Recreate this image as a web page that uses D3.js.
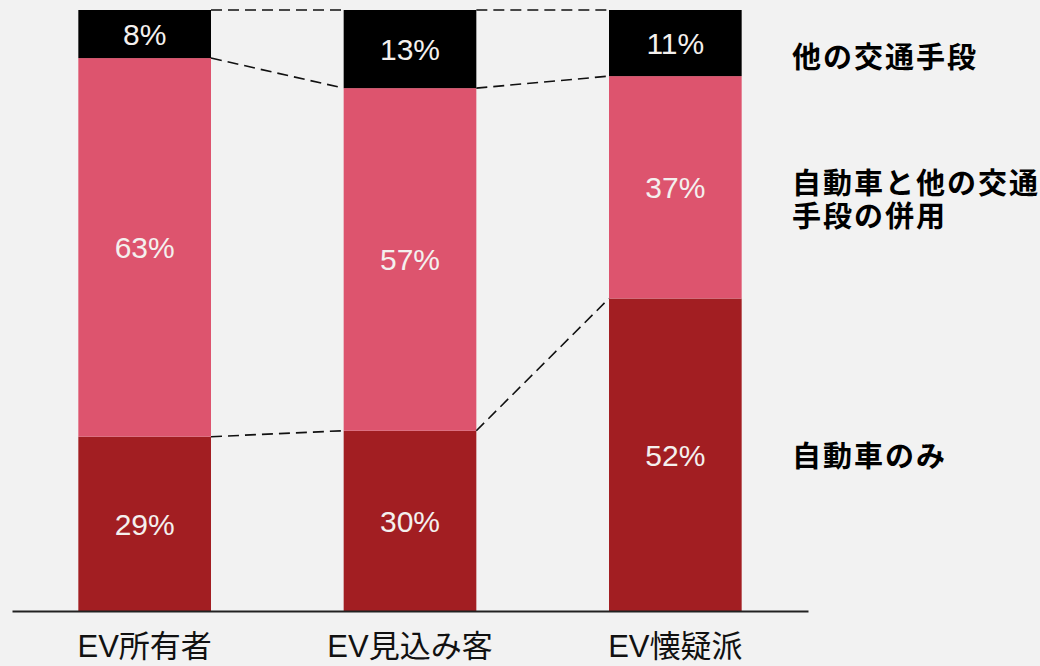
<!DOCTYPE html>
<html>
<head>
<meta charset="utf-8">
<script src="https://cdn.jsdelivr.net/npm/d3@7"></script>
<style>
  html, body { margin: 0; padding: 0; background: #f2f2f2; }
  svg { display: block; }
</style>
</head>
<body>
<div class="chart"></div>
<script>
const width = 1040;
const height = 666;
const fontSize = 30;

// data
const categories = ['EV所有者', 'EV見込み客', 'EV懐疑派'];
const carOnly = [29, 30, 52];
const carAndOther = [63, 57, 37];
const otherOnly = [8, 13, 11];
const seriesKeys = ['carOnly', 'carAndOther', 'otherOnly'];
const seriesLabels = [['自動車のみ'], ['自動車と他の交通', '手段の併用'], ['他の交通手段']];
const labelY = [467, 194, 68];

const colors = {
  carOnly: '#a21e22',
  carAndOther: '#dd546e',
  otherOnly: '#000000',
};

const rows = categories.map((c, i) => ({
  category: c,
  carOnly: carOnly[i],
  carAndOther: carAndOther[i],
  otherOnly: otherOnly[i],
}));

const svg = d3
  .select('.chart')
  .append('svg')
  .attr('width', width)
  .attr('height', height);

const xScale = d3
  .scaleBand()
  .domain(categories)
  .range([12, 808])
  .paddingInner(0.5)
  .paddingOuter(0.25);

const yScale = d3.scaleLinear().domain([0, 100]).range([611, 10]);

const stacked = d3.stack().keys(seriesKeys)(rows);

// bars
const layers = svg
  .append('g')
  .selectAll('g')
  .data(stacked)
  .enter()
  .append('g')
  .attr('fill', (d) => colors[d.key]);

layers
  .selectAll('rect')
  .data((d) => d)
  .enter()
  .append('rect')
  .attr('x', (d) => xScale(d.data.category))
  .attr('y', (d) => yScale(d[1]))
  .attr('width', xScale.bandwidth())
  .attr('height', (d) => yScale(d[0]) - yScale(d[1]));

// value labels
layers
  .selectAll('text')
  .data((d) => d)
  .enter()
  .append('text')
  .text((d) => `${d[1] - d[0]}%`)
  .attr('x', (d) => xScale(d.data.category) + xScale.bandwidth() / 2)
  .attr('y', (d) => (yScale(d[0]) + yScale(d[1])) / 2)
  .attr('dy', '0.36em')
  .attr('text-anchor', 'middle')
  .attr('fill', '#f4f0ee')
  .attr('font-family', 'Liberation Sans, Arial, sans-serif')
  .attr('font-size', fontSize);

// dashed connectors between neighbouring bars
const connectors = [];
stacked.forEach((layer) => {
  for (let i = 0; i < layer.length - 1; i++) {
    connectors.push({
      x1: xScale(layer[i].data.category) + xScale.bandwidth(),
      y1: yScale(layer[i][1]),
      x2: xScale(layer[i + 1].data.category),
      y2: yScale(layer[i + 1][1]),
    });
  }
});

svg
  .append('g')
  .selectAll('line')
  .data(connectors)
  .enter()
  .append('line')
  .attr('x1', (d) => d.x1)
  .attr('y1', (d) => d.y1)
  .attr('x2', (d) => d.x2)
  .attr('y2', (d) => d.y2)
  .attr('stroke', '#111')
  .attr('stroke-width', 1.6)
  .attr('stroke-dasharray', '11,6');

// x axis
const xAxis = d3.axisBottom(xScale).tickSize(0).tickSizeOuter(0).tickPadding(24);
const axisG = svg
  .append('g')
  .attr('transform', `translate(0, ${yScale(0)})`)
  .call(xAxis);
axisG.select('.domain').attr('stroke', '#222').attr('stroke-width', 2);
axisG
  .selectAll('text')
  .attr('fill', '#111')
  .attr('font-family', 'Liberation Sans, Noto Sans CJK JP, sans-serif')
  .attr('font-size', 31);

// series labels on the right
const legend = svg.append('g').attr('transform', 'translate(792, 0)');
seriesLabels.forEach((lines, i) => {
  const t = legend
    .append('text')
    .attr('y', labelY[i])
    .attr('font-family', 'Noto Sans CJK JP, sans-serif')
    .attr('font-weight', 'bold')
    .attr('font-size', 29)
    .attr('letter-spacing', 2)
    .attr('fill', '#000');
  lines.forEach((line, j) => {
    t.append('tspan').attr('x', 0).attr('dy', j === 0 ? 0 : 33).text(line);
  });
});
</script>
</body>
</html>
